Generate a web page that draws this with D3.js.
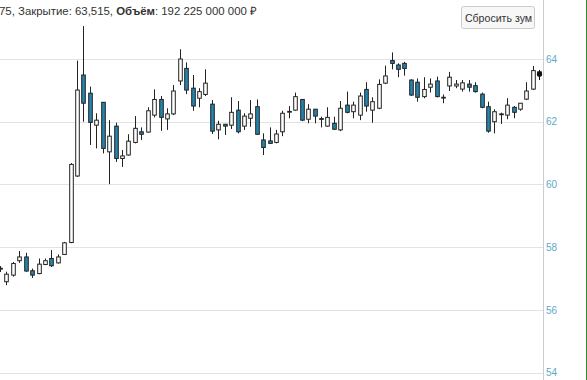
<!DOCTYPE html>
<html><head><meta charset="utf-8">
<script src="https://cdn.jsdelivr.net/npm/d3@7"></script>
<style>html,body{margin:0;padding:0;background:#fff;overflow:hidden}svg{display:block;font-family:"Liberation Sans",Arial,sans-serif}</style>
</head><body>
<svg id="c" width="587" height="380"></svg>
<script>
// ---- data ----
const openV  = [57.30,56.90,57.11,57.57,57.69,57.25,57.16,57.45,57.64,57.50,57.77,58.15,60.27,63.49,62.91,61.89,62.62,61.04,61.86,60.83,60.94,61.34,61.68,61.67,62.21,62.71,62.09,62.25,63.30,63.70,63.07,62.75,62.87,62.56,61.74,61.92,61.89,62.37,61.86,62.11,62.48,61.42,61.39,61.34,61.68,62.31,62.37,62.71,62.08,62.40,62.08,61.86,61.95,61.74,62.53,62.32,62.21,63.03,62.37,62.43,63.23,63.95,63.81,63.86,63.33,63.26,62.80,63.10,63.30,62.76,63.14,63.14,63.04,63.20,63.15,62.88,62.48,62.00,62.23,62.21,62.46,62.40,62.72,63.04,63.59];
const highV  = [57.40,57.22,57.53,57.88,57.82,57.32,57.64,57.64,57.91,57.77,58.17,60.68,63.95,65.05,63.12,62.27,62.62,62.05,61.97,61.10,61.60,62.18,61.82,62.46,63.03,62.82,62.43,63.17,64.31,63.89,63.49,63.07,63.67,62.69,62.03,61.92,62.78,62.66,62.27,62.69,62.71,61.63,61.82,61.74,62.35,62.50,62.93,62.71,62.56,62.40,62.16,62.46,62.16,62.66,62.96,62.64,62.93,63.26,62.78,63.35,63.79,64.21,63.86,63.91,63.35,63.38,63.42,63.38,63.44,62.87,63.59,63.33,63.33,63.33,63.26,62.93,62.64,62.40,62.29,62.75,62.50,62.59,63.26,63.78,63.65];
const lowV   = [57.21,56.79,57.06,57.50,57.22,57.02,57.14,57.43,57.37,57.48,57.75,58.13,60.24,62.00,61.26,61.15,60.99,60.01,60.72,60.56,60.92,61.31,61.42,61.65,62.14,61.71,61.74,62.21,63.17,62.88,62.35,62.46,62.82,61.61,61.44,61.58,61.77,61.63,61.74,61.84,61.58,60.94,61.29,61.31,61.54,62.11,62.35,62.02,61.95,61.95,61.82,61.84,61.74,61.70,62.27,62.11,62.05,62.32,61.97,62.40,63.20,63.67,63.42,63.47,62.82,62.64,62.75,62.93,62.78,62.59,62.98,63.07,62.96,62.96,62.93,62.43,61.65,61.63,61.93,62.08,62.11,62.35,62.69,63.01,63.33];
const closeV = [57.33,57.14,57.48,57.69,57.24,57.11,57.46,57.57,57.41,57.69,58.14,60.64,63.01,62.59,61.98,62.05,61.15,61.54,60.83,60.91,61.38,61.79,61.60,62.35,62.71,62.14,62.25,62.98,64.00,63.01,62.50,62.96,63.23,61.70,61.92,61.86,62.30,61.68,62.18,62.25,61.60,61.18,61.31,61.61,62.27,62.33,62.80,62.05,62.40,62.18,62.10,62.14,61.76,62.43,62.30,62.53,62.82,62.50,62.64,63.19,63.46,63.86,63.67,63.70,62.85,62.78,63.03,63.20,62.80,62.78,63.42,63.20,63.24,63.10,62.96,62.46,61.70,62.32,62.25,62.53,62.30,62.59,62.98,63.63,63.515];
const dayIndex = d3.range(openV.length);
const yTicks = [54, 56, 58, 60, 62, 64];
const headerHidden = "Мин: 63,3";
const headerParts = [["75, Закрытие: 63,515, ", false], ["Объём", true], [": 192 225 000 000 ₽", false]];
const buttonLabel = "Сбросить зум";
const activeIndex = openV.length - 1;

// ---- drawing ----
const svg = d3.select("#c");
const axisX = 543;
const x = d3.scaleLinear().domain([0, dayIndex.length - 1]).range([0, 539.3]);
const y = d3.scaleLinear().domain([54, 64]).range([372.7, 59]);

// grid
svg.append("g").selectAll("line").data(yTicks).join("line")
  .attr("x1", 0).attr("x2", axisX)
  .attr("y1", d => Math.round(y(d)) + 0.5).attr("y2", d => Math.round(y(d)) + 0.5)
  .attr("stroke", "#e3e3e3").attr("stroke-width", 1);

// axis line
svg.append("line").attr("x1", axisX + 0.5).attr("x2", axisX + 0.5).attr("y1", 0).attr("y2", 380)
  .attr("stroke", "#cccccc");
// right green edge
svg.append("line").attr("x1", 586.5).attr("x2", 586.5).attr("y1", 0).attr("y2", 380)
  .attr("stroke", "#2f8f2f");

// y axis
const yAxis = d3.axisRight(y).tickValues(yTicks).tickSize(0).tickPadding(3).tickFormat(d3.format("d"));
const ga = svg.append("g").attr("transform", `translate(${axisX},0)`).call(yAxis);
ga.select(".domain").remove();
ga.selectAll("text").attr("fill", "#62a9c9").style("font-size", "10px")
  .style("font-family", "'Liberation Sans', Arial, sans-serif");

// candles
const cg = svg.append("g");
const bw = 3.6;
dayIndex.forEach(i => {
  const o = openV[i], c = closeV[i], h = highV[i], l = lowV[i];
  const cx = Math.round(x(i)) + 0.5;
  const up = c >= o;
  const active = i === activeIndex;
  const col = active ? "#111" : "#222";
  cg.append("line").attr("x1", cx).attr("x2", cx)
    .attr("y1", y(h)).attr("y2", y(l)).attr("stroke", col).attr("stroke-width", 1);
  const top = y(Math.max(o, c)), bot = y(Math.min(o, c));
  cg.append("rect").attr("x", cx - bw / 2).attr("width", bw)
    .attr("y", top).attr("height", Math.max(0.8, bot - top))
    .attr("fill", active ? "#111" : (up ? "#ffffff" : "#2685ad"))
    .attr("stroke", col).attr("stroke-width", 1);
  if (active) {
    cg.append("circle").attr("cx", cx).attr("cy", y(c)).attr("r", 2.6).attr("fill", "#111");
  }
});

// header text
const ht = svg.append("text").attr("y", 15).style("font-size", "11.4px").attr("fill", "#333");
const hid = ht.append("tspan").text(headerHidden);
headerParts.forEach(([t, b]) => ht.append("tspan").text(t).style("font-weight", b ? "bold" : "normal"));
const hw = hid.node().getComputedTextLength();
ht.attr("x", -hw - 1);

// button
const bg = svg.append("g");
bg.append("rect").attr("x", 461.5).attr("y", 6.5).attr("width", 73).attr("height", 22).attr("rx", 2)
  .attr("fill", "#f7f7f7").attr("stroke", "#cccccc");
bg.append("text").attr("x", 498.5).attr("y", 21.5).attr("text-anchor", "middle")
  .style("font-size", "10.6px").attr("fill", "#333").text(buttonLabel);
</script>
</body></html>
